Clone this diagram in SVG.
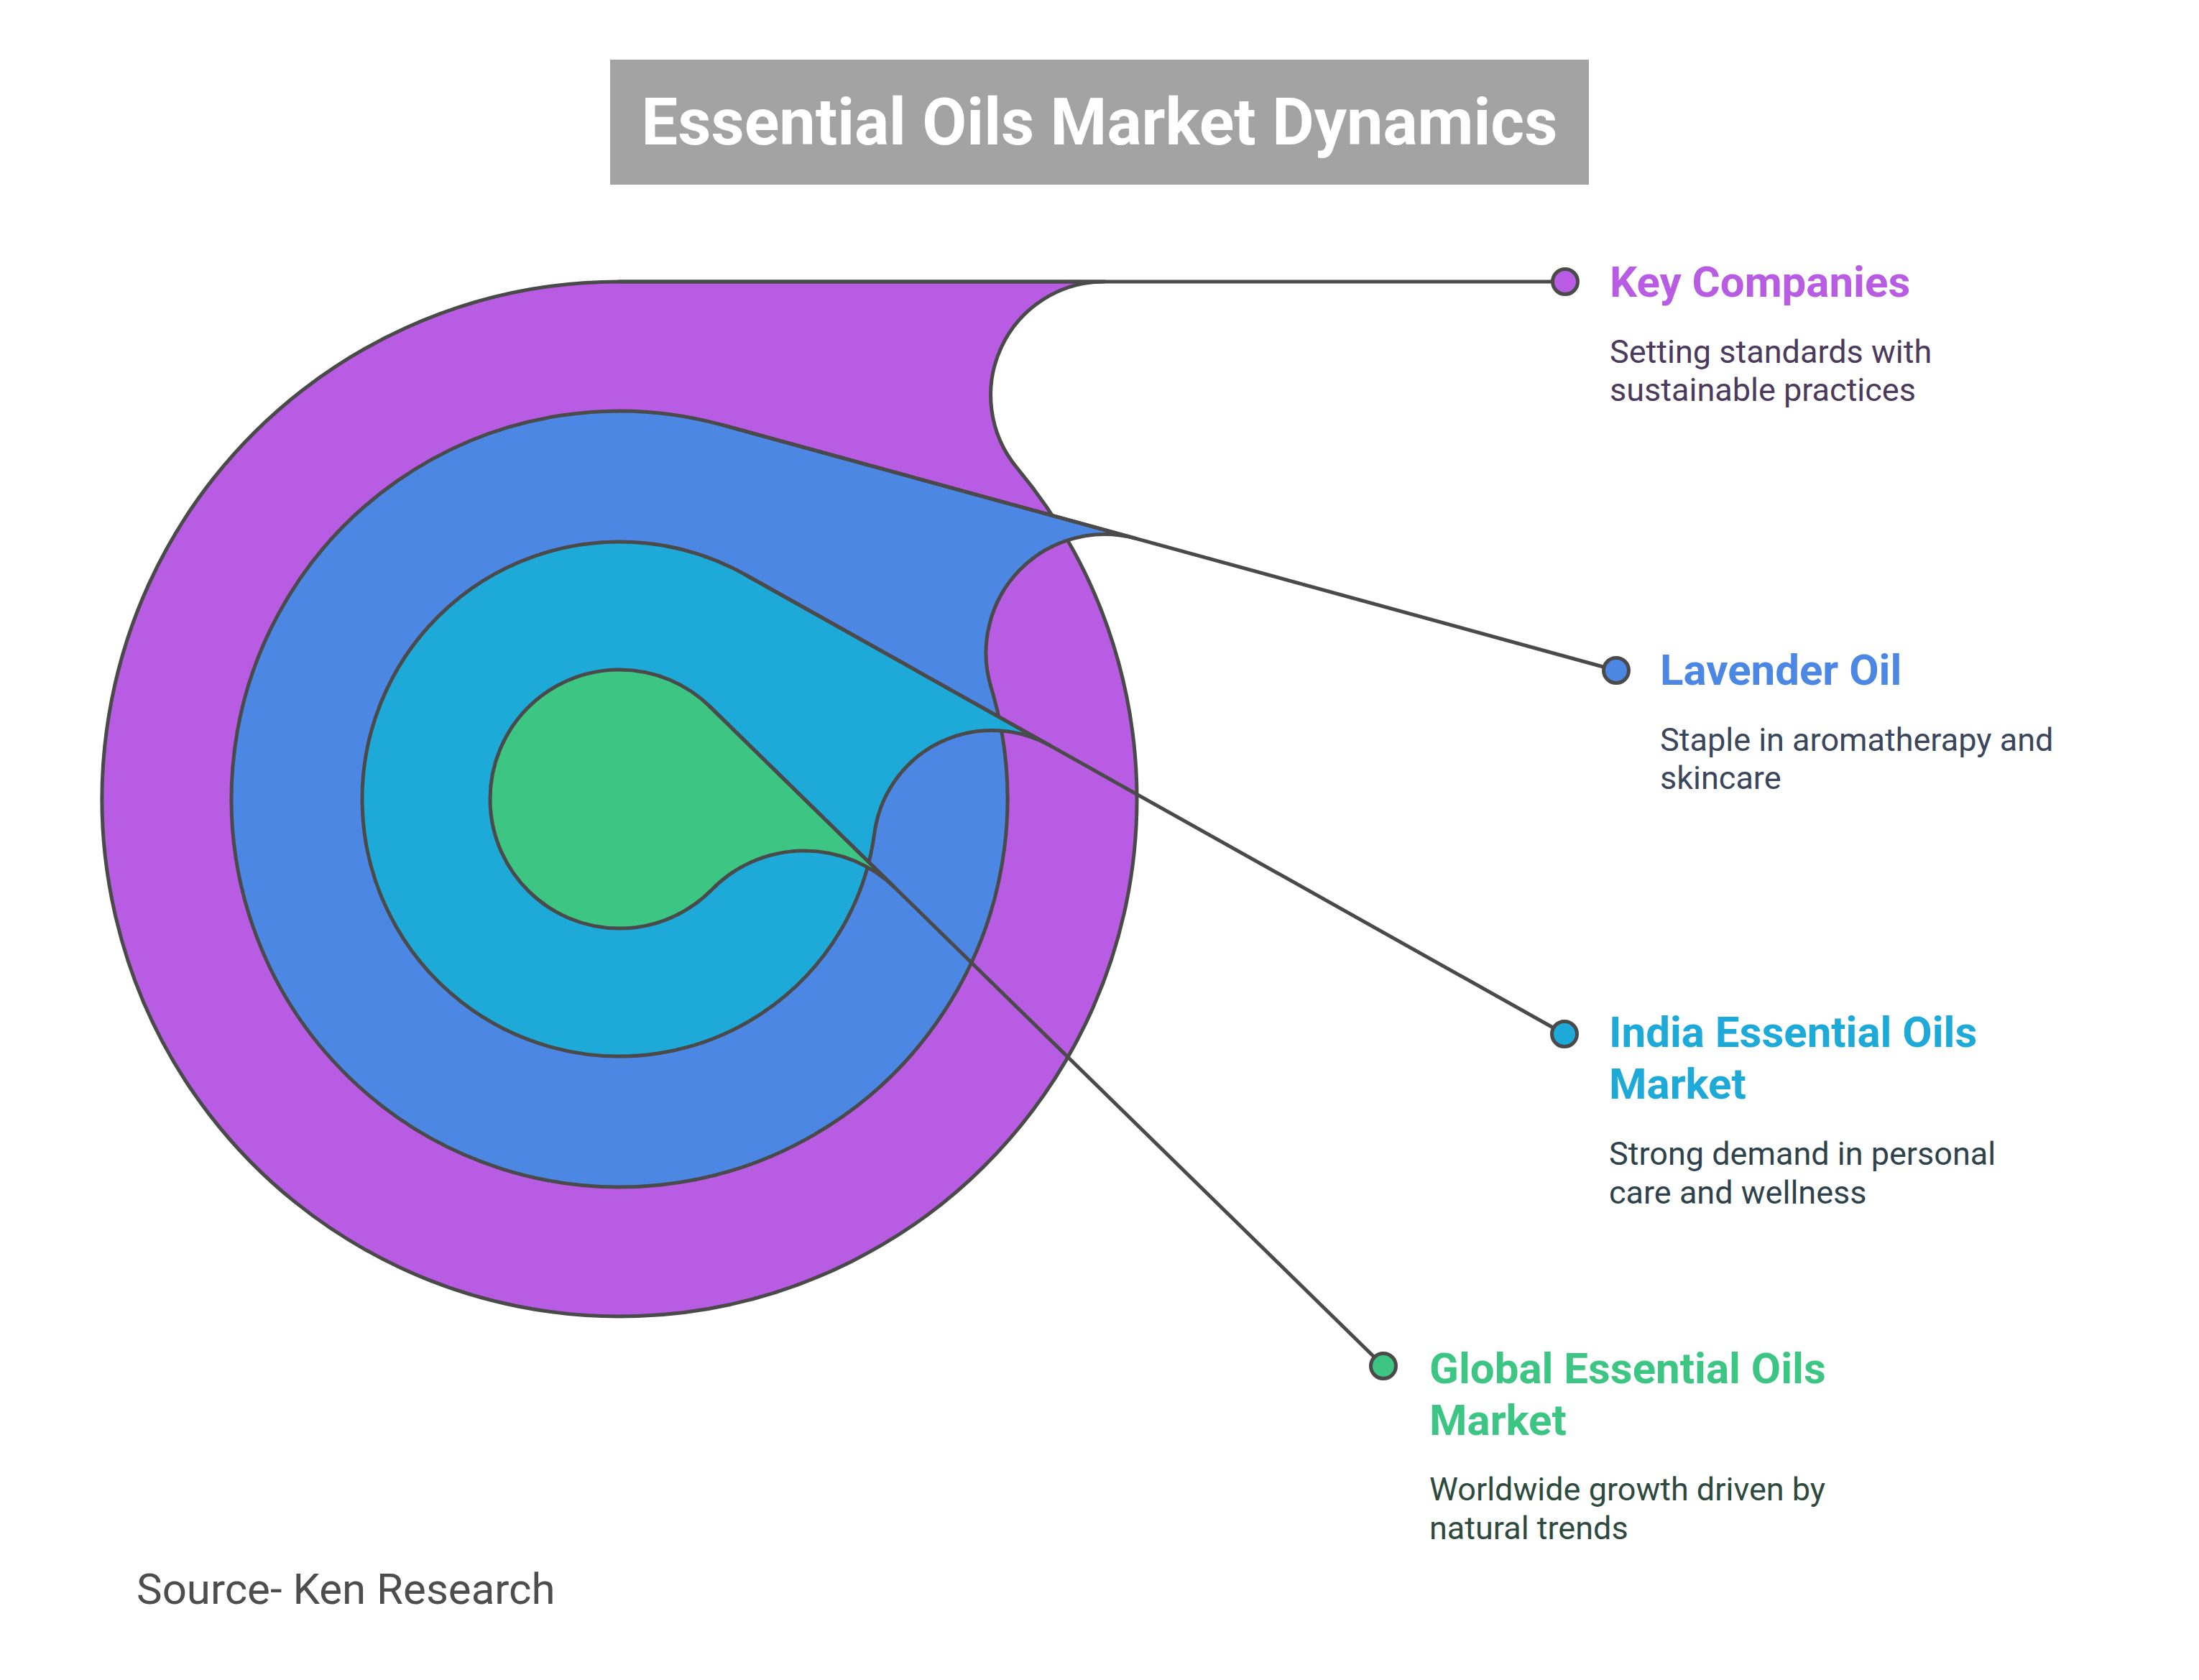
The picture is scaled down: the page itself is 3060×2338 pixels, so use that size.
<svg xmlns="http://www.w3.org/2000/svg" width="3060" height="2338" viewBox="0 0 3060 2338">
<style>
.shape{stroke:#4a4a4a;stroke-width:5;stroke-linejoin:round}
.conn{stroke:#4a4a4a;stroke-width:5;fill:none;stroke-linecap:round}
.dot{stroke:#4a4a4a;stroke-width:5}
.ttl{font-family:Roboto,"Liberation Sans",sans-serif;font-weight:700;font-size:60px}
.dsc{font-family:Roboto,"Liberation Sans",sans-serif;font-weight:400;font-size:45px}
</style>
<rect width="3060" height="2338" fill="#ffffff"/>
<g id="title">
<rect x="849" y="83" width="1362" height="174" fill="#a3a3a3"/>
<text x="1530" y="201" text-anchor="middle" fill="#ffffff" style="font-family:Roboto,'Liberation Sans',sans-serif;font-weight:700;font-size:90px">Essential Oils Market Dynamics</text>
</g>
<g id="node-key-companies">
<path class="shape" fill="#b75ce3" d="M 862 392 L 1536.6 392 A 158 158 0 0 0 1415.2 651.1 A 720 720 0 1 1 862 392 Z"/>
</g>
<g id="node-lavender-oil">
<path class="shape" fill="#4c87e3" d="M 1005.06 591.29 L 1580.73 749.45 A 165 165 0 0 0 1379.04 956.17 A 540 540 0 1 1 1005.06 591.29 Z"/>
</g>
<g id="node-india">
<path class="shape" fill="#1eaad8" d="M 1037.11 799.75 L 1461.07 1037.51 A 165 165 0 0 0 1216.83 1159.52 A 358 358 0 1 1 1037.11 799.75 Z"/>
</g>
<g id="node-global">
<path class="shape" fill="#3dc584" d="M 987.94 983.4 L 1245.15 1235.28 A 180 180 0 0 0 990.6 1237.94 A 180 180 0 1 1 987.94 983.4 Z"/>
</g>
<g id="connectors">
<path class="conn" d="M 862 392 L 2178 392"/>
<path class="conn" d="M 1005.06 591.29 L 2249 933"/>
<path class="conn" d="M 1037.11 799.75 L 2177 1439"/>
<path class="conn" d="M 987.94 983.4 L 1925 1901"/>
<circle class="dot" cx="2178" cy="392" r="17.5" fill="#b75ce3"/>
<circle class="dot" cx="2249" cy="933" r="17.5" fill="#4c87e3"/>
<circle class="dot" cx="2177" cy="1439" r="17.5" fill="#1eaad8"/>
<circle class="dot" cx="1925" cy="1901" r="17.5" fill="#3dc584"/>
</g>
<g id="label-key-companies">
<text class="ttl" x="2240" y="413" fill="#b75ce3">Key Companies</text>
<text class="dsc" x="2240" y="505" fill="#4b3a5c">Setting standards with</text>
<text class="dsc" x="2240" y="558" fill="#4b3a5c">sustainable practices</text>
</g>
<g id="label-lavender-oil">
<text class="ttl" x="2310" y="953" fill="#4c87e3">Lavender Oil</text>
<text class="dsc" x="2310" y="1045" fill="#39465c">Staple in aromatherapy and</text>
<text class="dsc" x="2310" y="1098" fill="#39465c">skincare</text>
</g>
<g id="label-india">
<text class="ttl" x="2239" y="1457" fill="#1eaad8">India Essential Oils</text>
<text class="ttl" x="2239" y="1529" fill="#1eaad8">Market</text>
<text class="dsc" x="2239" y="1621" fill="#2e424c">Strong demand in personal</text>
<text class="dsc" x="2239" y="1675" fill="#2e424c">care and wellness</text>
</g>
<g id="label-global">
<text class="ttl" x="1989" y="1925" fill="#3dc584">Global Essential Oils</text>
<text class="ttl" x="1989" y="1997" fill="#3dc584">Market</text>
<text class="dsc" x="1989" y="2088" fill="#2e4a3f">Worldwide growth driven by</text>
<text class="dsc" x="1989" y="2142" fill="#2e4a3f">natural trends</text>
</g>
<text x="190" y="2232" fill="#4d4d4d" style="font-family:Roboto,'Liberation Sans',sans-serif;font-size:60px">Source- Ken Research</text>
</svg>
